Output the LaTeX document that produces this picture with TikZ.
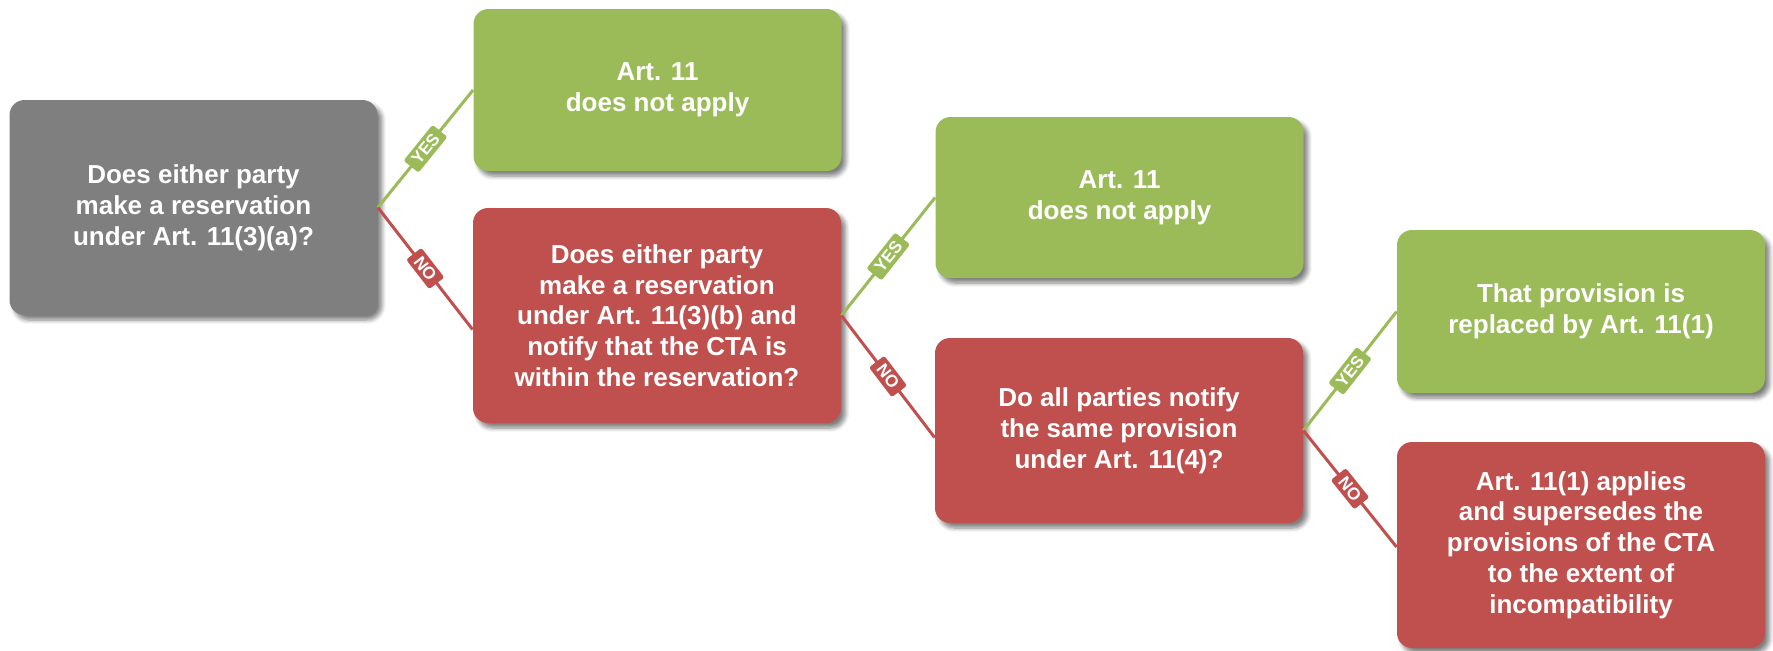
\documentclass[tikz,border=0pt]{standalone}
\usepackage{fontspec}
\setmainfont{Liberation Sans}
\usetikzlibrary{shadows.blur}
\definecolor{qgray}{HTML}{7F7F7F}
\definecolor{qgreen}{HTML}{9BBB59}
\definecolor{qred}{HTML}{C0504D}
\begin{document}
\begin{tikzpicture}[x=0.5pt,y=-0.5pt,
  box/.style={rectangle, rounded corners=7.5pt, minimum width=184pt,
    text=white, align=center, inner sep=0pt,
    font=\bfseries\fontsize{13}{15.4}\selectfont,
    blur shadow={shadow xshift=2.2pt, shadow yshift=-2.5pt, shadow blur steps=6, shadow opacity=50}},
  qbox/.style={box, fill=qgray},
  gbox/.style={box, fill=qgreen},
  rbox/.style={box, fill=qred},
  yesline/.style={draw=qgreen, line width=1.5pt},
  noline/.style={draw=qred, line width=1.5pt},
  tag/.style={sloped, midway, rounded corners=1.2pt, text=white, inner xsep=3pt, inner ysep=1.8pt,
    font=\bfseries\fontsize{8.5}{8.5}\selectfont}
]
\useasboundingbox (0,0) rectangle (1773,650);

% decision and outcome boxes
\node[qbox, minimum height=107.5pt] (q1) at (193.5,207.5) {Does either party\\make a reservation\\under Art. 11(3)(a)?};
\node[gbox, minimum height=81pt]   (y1) at (657.5,90)    {Art. 11\\does not apply};
\node[rbox, minimum height=107.5pt] (q2) at (657,315.5)  {Does either party\\make a reservation\\under Art. 11(3)(b) and\\notify that the CTA is\\within the reservation?};
\node[gbox, minimum height=80.5pt] (y2) at (1119.5,197.5) {Art. 11\\does not apply};
\node[rbox, minimum height=92.5pt] (q3) at (1119,430.5)  {Do all parties notify\\the same provision\\under Art. 11(4)?};
\node[gbox, minimum height=81.5pt] (y3) at (1581,311.5)  {That provision is\\replaced by Art. 11(1)};
\node[rbox, minimum height=103pt]  (n3) at (1581,545)    {Art. 11(1) applies\\and supersedes the\\provisions of the CTA\\to the extent of\\incompatibility};

% connectors
\draw[yesline] (q1.east) -- node[tag, fill=qgreen] {YES} (y1.west);
\draw[noline]  (q1.east) -- node[tag, fill=qred] {NO} ([yshift=-7pt]q2.west);
\draw[yesline] (q2.east) -- node[tag, fill=qgreen] {YES} (y2.west);
\draw[noline]  (q2.east) -- node[tag, fill=qred] {NO} ([yshift=-3.5pt]q3.west);
\draw[yesline] (q3.east) -- node[tag, fill=qgreen] {YES} (y3.west);
\draw[noline]  (q3.east) -- node[tag, fill=qred] {NO} ([yshift=-1pt]n3.west);
\end{tikzpicture}
\end{document}
